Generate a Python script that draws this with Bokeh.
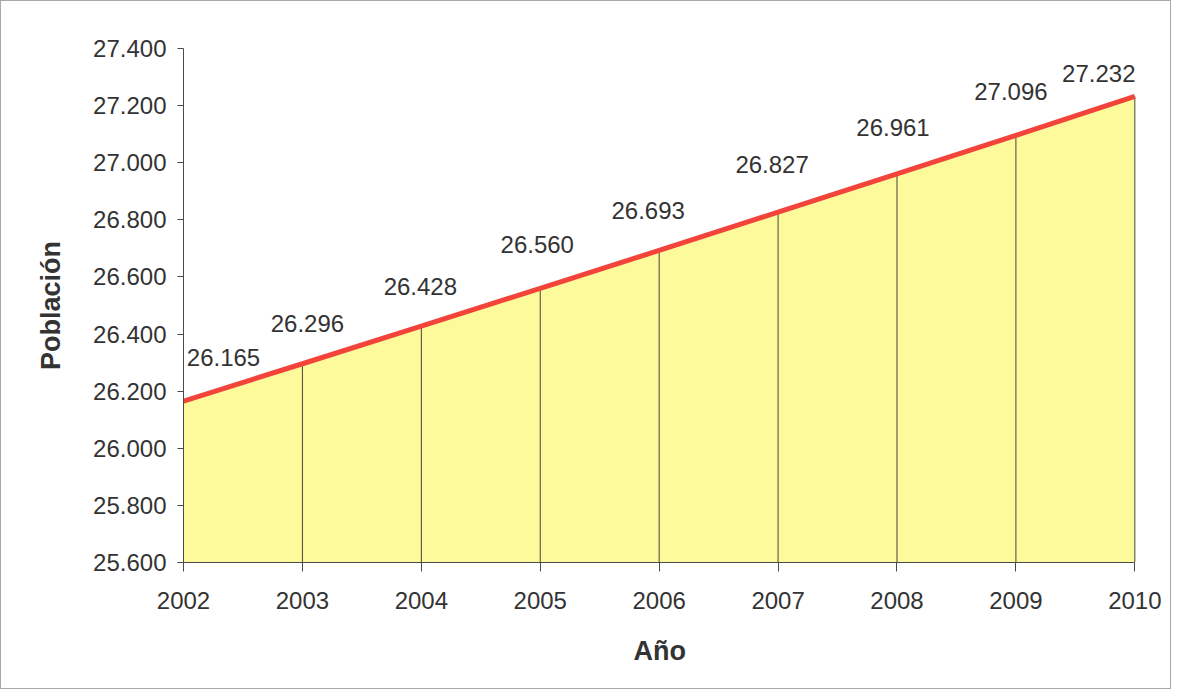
from bokeh.plotting import figure
from bokeh.models import ColumnDataSource, Range1d, FixedTicker, NumeralTickFormatter, LabelSet, Title
from bokeh.core.properties import value
from bokeh.embed import file_html
from bokeh.resources import INLINE

years = [2002, 2003, 2004, 2005, 2006, 2007, 2008, 2009, 2010]
poblacion = [26.165, 26.296, 26.428, 26.560, 26.693, 26.827, 26.961, 27.096, 27.232]
y_ticks = [25.6, 25.8, 26.0, 26.2, 26.4, 26.6, 26.8, 27.0, 27.2, 27.4]
labels = ["26.165", "26.296", "26.428", "26.560", "26.693", "26.827", "26.961", "27.096", "27.232"]

# label placement offsets (screen px)
lab_dx = [40, 5, -1, -3, -11, -6, -4, -5, -36]
lab_dy = [44, 40, 40, 44, 40, 48, 46, 44, 23]

base = 25.6
src = ColumnDataSource(dict(x=years, y=poblacion, base=[base] * len(years),
                            lab=labels, dx=lab_dx, dy=lab_dy))

FONT = "Liberation Sans"
TXT = "#333333"

p = figure(width=1171, height=689, output_backend="svg", toolbar_location=None,
           x_range=Range1d(2002, 2010.3), y_range=Range1d(25.6, 27.4),
           min_border_left=182, min_border_right=2, min_border_top=47, min_border_bottom=128)
p.styles = {"border": "1px solid #a8a8a8"}

p.varea(x="x", y1="base", y2="y", source=src, fill_color="#fdfa9c")
p.segment(x0="x", y0="base", x1="x", y1="y", source=src, line_color="#45453a", line_width=1)
p.line(x="x", y="y", source=src, line_color="#f2443a", line_width=5)
p.add_layout(LabelSet(x="x", y="y", text="lab", source=src, x_offset="dx", y_offset="dy",
                      text_align="center", text_baseline="middle", text_font=value(FONT),
                      text_font_size=value("24px"), text_color=value(TXT)))

p.grid.visible = False
p.outline_line_color = None
p.background_fill_color = "white"

p.xaxis.ticker = FixedTicker(ticks=years)
p.xaxis.bounds = (2002, 2010)
p.yaxis.ticker = FixedTicker(ticks=y_ticks)
p.yaxis.formatter = NumeralTickFormatter(format="0.000")

for ax in (p.xaxis, p.yaxis):
    ax.axis_line_color = "#4a4a4a"
    ax.major_tick_line_color = "#4a4a4a"
    ax.minor_tick_line_color = None
    ax.major_tick_in = 0
    ax.major_label_text_font = FONT
    ax.major_label_text_font_size = "24px"
    ax.major_label_text_color = TXT
    ax.axis_label_text_font = FONT
    ax.axis_label_text_font_style = "bold"
    ax.axis_label_text_color = TXT
    ax.axis_label_text_font_size = "27px"

p.xaxis.major_tick_out = 9
p.yaxis.major_tick_out = 6
p.xaxis.major_label_standoff = 20
p.yaxis.major_label_standoff = 11
p.yaxis.axis_label = "Población"
p.yaxis.axis_label_standoff = 24

# x-axis title centred on the 2002-2010 span
p.add_layout(Title(text="Año", align="left", offset=450, standoff=44,
                   text_font=FONT, text_font_size="27px", text_font_style="bold",
                   text_color=TXT), "below")

open("out.html", "w").write(file_html(p, INLINE))
